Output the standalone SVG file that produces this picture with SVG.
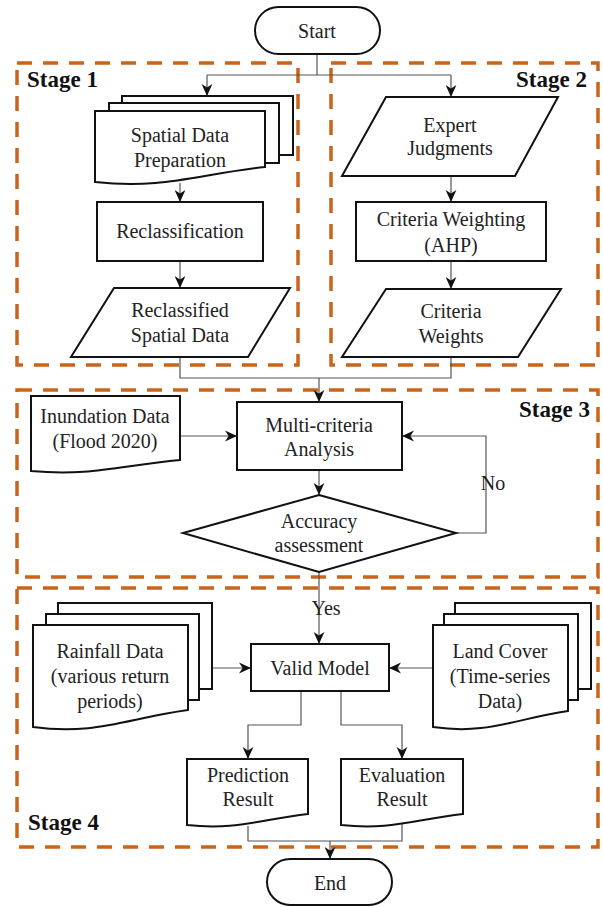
<svg xmlns="http://www.w3.org/2000/svg" width="603" height="907" viewBox="0 0 603 907">
<defs>
<marker id="arr" markerUnits="userSpaceOnUse" markerWidth="12" markerHeight="12" viewBox="0 0 10 10" refX="10" refY="5" orient="auto">
<path d="M0,0.5 L10,5 L0,9.5 L3,5 Z" fill="#111"/>
</marker>
</defs>
<style>
.stage{fill:none;stroke:#C8651B;stroke-width:3.5;stroke-dasharray:15 11}
.sl{font-family:'Liberation Serif','Times New Roman',Times,'DejaVu Serif',serif;font-weight:bold;font-size:23px;fill:#111}
.n{fill:#fff;stroke:#111;stroke-width:2}
.t{font-family:'Liberation Serif','Times New Roman',Times,'DejaVu Serif',serif;font-size:20px;fill:#222;text-anchor:middle}
.c{fill:none;stroke:#555;stroke-width:1.2}
.ca{fill:none;stroke:#555;stroke-width:1.2;marker-end:url(#arr)}
</style>
<rect width="603" height="907" fill="#fff"/>

<g id="stages">
<rect class="stage" x="17" y="63" width="281" height="302"/>
<rect class="stage" x="331" y="63" width="267" height="302"/>
<rect class="stage" x="17" y="390" width="581" height="187"/>
<rect class="stage" x="17" y="588" width="581" height="259"/>
<text class="sl" x="27" y="87" font-family="Liberation Serif, serif">Stage 1</text>
<text class="sl" x="587" y="87" text-anchor="end" font-family="Liberation Serif, serif">Stage 2</text>
<text class="sl" x="590" y="417" text-anchor="end" font-family="Liberation Serif, serif">Stage 3</text>
<text class="sl" x="28" y="830" font-family="Liberation Serif, serif">Stage 4</text>
</g>

<g id="connectors">
<path class="c" d="M317,54 V75 M207,75 H451"/>
<path class="ca" d="M207,75 V96"/>
<path class="ca" d="M451,75 V97"/>
<path class="ca" d="M180,183 V202"/>
<path class="ca" d="M180,261 V288"/>
<path class="ca" d="M451,176 V202"/>
<path class="ca" d="M451,261 V289"/>
<path class="c" d="M180,357 V378 H451 V357"/>
<path class="ca" d="M319,378 V402"/>
<path class="ca" d="M180,436 H237"/>
<path class="ca" d="M319,470 V495"/>
<path class="ca" d="M456,533 H486 V436 H402"/>
<path class="ca" d="M319,572 V644"/>
<path class="ca" d="M212,668 H251"/>
<path class="ca" d="M433,668 H389"/>
<path class="ca" d="M301,691 V725 H248 V759"/>
<path class="ca" d="M341,691 V725 H402 V759"/>
<path class="c" d="M248,826 V841 H402 V824"/>
<path class="ca" d="M330,841 V859"/>
<text class="t" x="493" y="490" text-anchor="start">No</text>
<text class="t" x="326" y="615" text-anchor="start">Yes</text>
</g>

<g id="start">
<rect class="n" x="255" y="7" width="125" height="47" rx="23.5"/>
<text class="t" x="317" y="38">Start</text>
</g>

<g id="spatial-data">
<rect class="n" x="122" y="96" width="171" height="59"/>
<rect class="n" x="109" y="103" width="170" height="60"/>
<path class="n" d="M95,111 H265 V167 C197,174.5 163,189.5 95,182 Z"/>
<text class="t" x="180" y="142">Spatial Data</text>
<text class="t" x="180" y="167">Preparation</text>
</g>

<g id="reclassification">
<rect class="n" x="97" y="202" width="166" height="59"/>
<text class="t" x="180" y="238">Reclassification</text>
</g>

<g id="reclassified">
<polygon class="n" points="114,288 290,288 248,357 71,357"/>
<text class="t" x="180" y="317">Reclassified</text>
<text class="t" x="180" y="342">Spatial Data</text>
</g>

<g id="expert">
<polygon class="n" points="386,97 558,97 515,176 342,176"/>
<text class="t" x="450" y="132">Expert</text>
<text class="t" x="450" y="155">Judgments</text>
</g>

<g id="weighting">
<rect class="n" x="356" y="202" width="190" height="59"/>
<text class="t" x="451" y="226">Criteria Weighting</text>
<text class="t" x="451" y="252">(AHP)</text>
</g>

<g id="weights">
<polygon class="n" points="386,289 561,289 518,357 342,357"/>
<text class="t" x="451" y="318">Criteria</text>
<text class="t" x="451" y="343">Weights</text>
</g>

<g id="inundation">
<path class="n" d="M31,396 H180 V460 C120.4,465.5 90.6,476.5 31,471 Z"/>
<text class="t" x="105" y="423">Inundation Data</text>
<text class="t" x="105" y="448">(Flood 2020)</text>
</g>

<g id="mca">
<rect class="n" x="237" y="402" width="165" height="68"/>
<text class="t" x="319" y="432">Multi-criteria</text>
<text class="t" x="319" y="456">Analysis</text>
</g>

<g id="accuracy">
<polygon class="n" points="319,495 456,533 319,572 183,533"/>
<text class="t" x="319" y="528">Accuracy</text>
<text class="t" x="319" y="552">assessment</text>
</g>

<g id="rainfall">
<rect class="n" x="58" y="603" width="154" height="86"/>
<rect class="n" x="46" y="614" width="153" height="86"/>
<path class="n" d="M33,625 H188 V710 C126,718.5 95,735.5 33,727 Z"/>
<text class="t" x="110" y="658">Rainfall Data</text>
<text class="t" x="110" y="683">(various return</text>
<text class="t" x="110" y="708">periods)</text>
</g>

<g id="valid">
<rect class="n" x="251" y="644" width="138" height="47"/>
<text class="t" x="320" y="675">Valid Model</text>
</g>

<g id="landcover">
<rect class="n" x="455" y="603" width="136" height="86"/>
<rect class="n" x="444" y="614" width="134" height="86"/>
<path class="n" d="M433,625 H568 V711 C514,719 487,735 433,727 Z"/>
<text class="t" x="500" y="658">Land Cover</text>
<text class="t" x="500" y="683">(Time-series</text>
<text class="t" x="500" y="708">Data)</text>
</g>

<g id="prediction">
<path class="n" d="M187,759 H308 V814 C259.6,819.5 235.4,830.5 187,825 Z"/>
<text class="t" x="248" y="782">Prediction</text>
<text class="t" x="248" y="806">Result</text>
</g>

<g id="evaluation">
<path class="n" d="M341,759 H463 V814 C414.2,819.5 389.8,830.5 341,825 Z"/>
<text class="t" x="402" y="782">Evaluation</text>
<text class="t" x="402" y="806">Result</text>
</g>

<g id="end">
<rect class="n" x="267" y="859" width="125" height="46" rx="23"/>
<text class="t" x="330" y="890">End</text>
</g>
</svg>
